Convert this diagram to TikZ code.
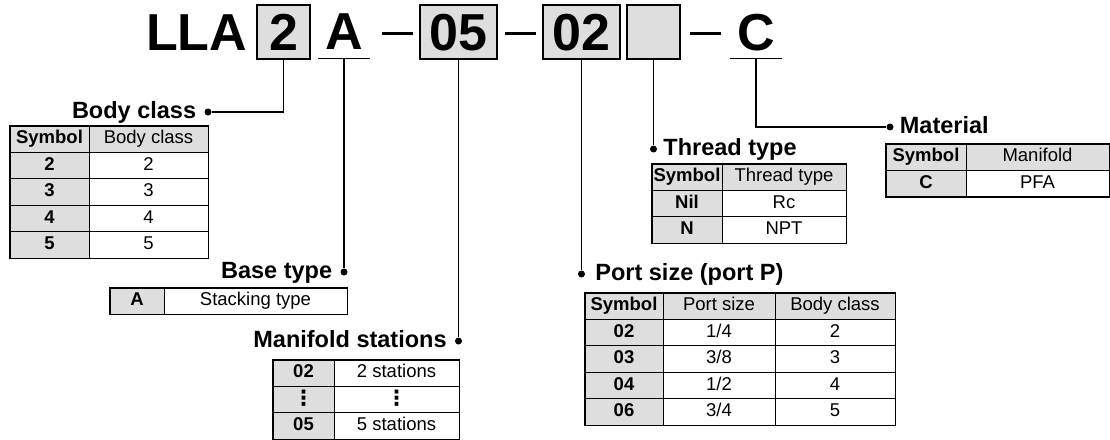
\documentclass[tikz,border=0pt]{standalone}
\usepackage{fontspec}
\setmainfont{Liberation Sans}
\newfontfamily\symfont{DejaVu Sans}
\usetikzlibrary{matrix, positioning}

\definecolor{cellgray}{gray}{0.87}
\newcommand{\tabfont}{\fontsize{18.5}{20}\selectfont}
\newcommand{\capfont}{\fontsize{23.5}{26}\selectfont\bfseries}
\newcommand{\codefont}{\fontsize{52}{54}\selectfont\bfseries}
\newcommand{\colondots}{{\symfont\bfseries\fontsize{21}{21}\selectfont\raisebox{-1pt}{⋮}}}

\tikzset{
  code/.style = {inner sep=0, minimum height=54, text depth=0, font=\codefont},
  codebox/.style = {code, draw, line width=1.3, fill=cellgray},
  ul/.style = {code, minimum height=52, minimum width=52},
  dashmark/.style = {fill, inner sep=0, minimum width=31, minimum height=3},
  dot/.style = {circle, fill, inner sep=0, minimum size=7},
  wire/.style = {line width=1.4},
  caption/.style = {font=\capfont, inner sep=0, text height=17, text depth=5},
  tbl/.style = {matrix of nodes, inner sep=0, draw, line width=1.2,
    anchor=north west, column sep=-0.8, row sep=-0.8,
    nodes={draw, line width=0.8, inner sep=0, minimum height=26.4,
      text height=13.5, text depth=4, font=\tabfont},
    column 1/.style={nodes={fill=cellgray, font=\tabfont\bfseries}}},
  hdr/.style = {row 1/.style={nodes={fill=cellgray}}},
}

\begin{document}
\begin{tikzpicture}[x=1pt, y=-1pt]
  \useasboundingbox (0,0) rectangle (1110,439);

  % order code
  \node[code, anchor=base west] (lla) at (146,50) {LLA};
  \node[codebox, minimum width=53] (b2) at (283.5,32) {2};
  \node[ul] (ca) at (344,32) {A};
  \node[dashmark] (m1) at (397.5,33.5) {};
  \node[codebox, minimum width=77] (b05) at (458.5,32) {05};
  \node[dashmark] (m2) at (520,33.5) {};
  \node[codebox, minimum width=77] (b02) at (581.5,32) {02};
  \node[codebox, minimum width=53] (bthr) at (653.5,32) {};
  \node[dashmark] (m3) at (705,33.5) {};
  \node[ul] (cc) at (756,32) {C};
  \draw[wire] (ca.south west) -- (ca.south east);
  \draw[wire] (cc.south west) -- (cc.south east);

  % dots and captions
  \node[dot] (dbody) at (208,112) {};
  \node[dot] (dbase) at (ca.south |- 0,272) {};
  \node[dot] (dman) at (b05.south |- 0,341) {};
  \node[dot] (dport) at (b02.south |- 0,274) {};
  \node[dot] (dthr) at (bthr.south |- 0,149) {};
  \node[dot] (dmat) at (890,127) {};

  \node[caption, left=8 of dbody] (lbody) {Body class};
  \node[caption, left=8 of dbase] (lbase) {Base type};
  \node[caption, left=8 of dman] (lman) {Manifold stations};
  \node[caption, right=10 of dport] (lport) {Port size (port P)};
  \node[caption, right=6 of dthr] (lthr) {Thread type};
  \node[caption, right=6 of dmat] (lmat) {Material};

  \draw[wire] (b2.south) |- (dbody);
  \draw[wire] (ca.south) -- (dbase);
  \draw[wire] (b05.south) -- (dman);
  \draw[wire] (b02.south) -- (dport);
  \draw[wire] (bthr.south) -- (dthr);
  \draw[wire] (cc.south) |- (dmat);

  % tables
  \matrix (tbody) [tbl, hdr,
    column 1/.append style={nodes={minimum width=79}},
    column 2/.append style={nodes={minimum width=119}}] at (9,125) {
    Symbol & Body class \\
    2 & 2 \\
    3 & 3 \\
    4 & 4 \\
    5 & 5 \\
  };
  \matrix (tbase) [tbl,
    column 1/.append style={nodes={minimum width=54}},
    column 2/.append style={nodes={minimum width=183}}] at (109,287) {
    A & Stacking type \\
  };
  \matrix (tman) [tbl,
    column 1/.append style={nodes={minimum width=61}},
    column 2/.append style={nodes={minimum width=125}}] at (272,359) {
    02 & 2 stations \\
    \colondots & \colondots \\
    05 & 5 stations \\
  };
  \matrix (tthr) [tbl, hdr,
    column 1/.append style={nodes={minimum width=70}},
    column 2/.append style={nodes={minimum width=124}}] at (651,163) {
    Symbol & Thread type \\
    Nil & Rc \\
    N & NPT \\
  };
  \matrix (tport) [tbl, hdr,
    column 1/.append style={nodes={minimum width=78}},
    column 2/.append style={nodes={minimum width=112}},
    column 3/.append style={nodes={minimum width=120}}] at (584,292) {
    Symbol & Port size & Body class \\
    02 & 1/4 & 2 \\
    03 & 3/8 & 3 \\
    04 & 1/2 & 4 \\
    06 & 3/4 & 5 \\
  };
  \matrix (tmat) [tbl, hdr,
    column 1/.append style={nodes={minimum width=80}},
    column 2/.append style={nodes={minimum width=143}}] at (885,143) {
    Symbol & Manifold \\
    C & PFA \\
  };
\end{tikzpicture}
\end{document}
